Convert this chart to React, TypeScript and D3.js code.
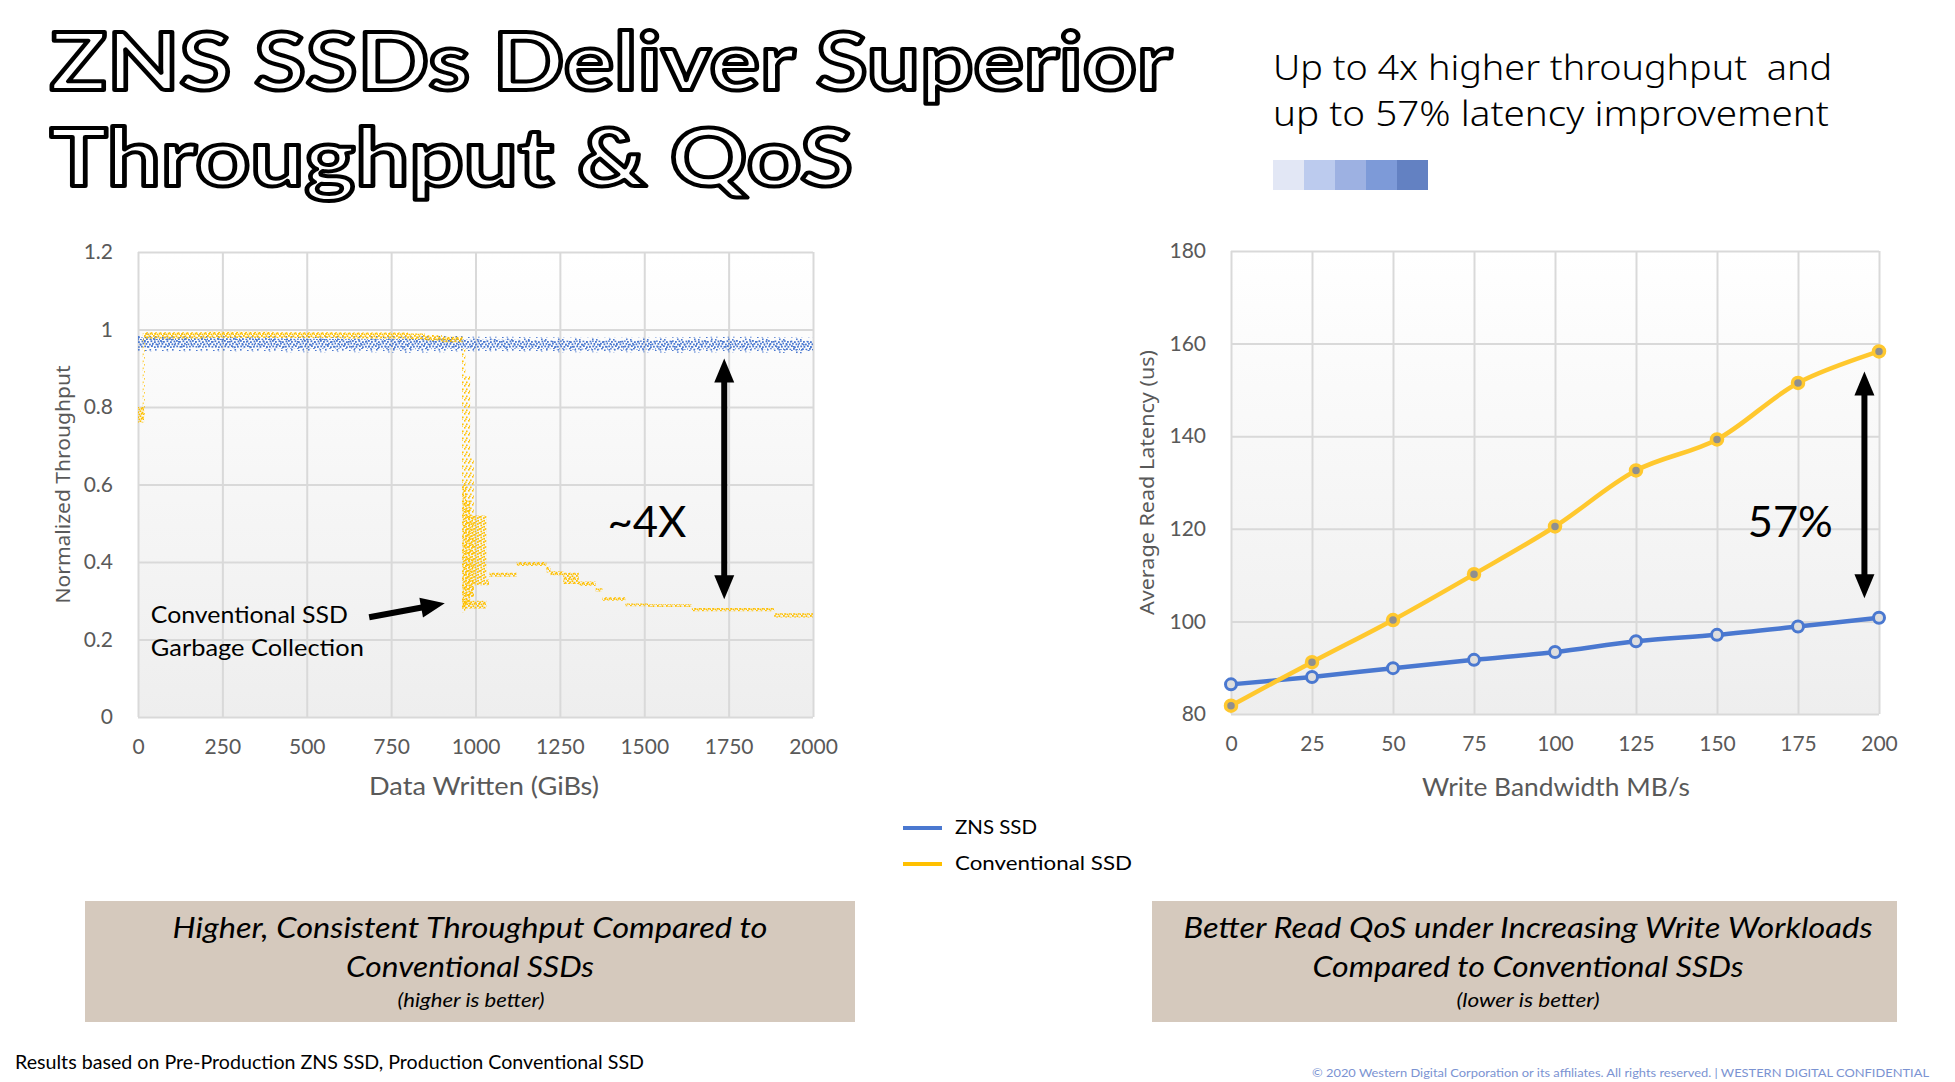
import React, { useRef, useEffect } from 'react';
import * as d3 from 'd3';

// ---- left chart: normalized throughput vs data written ----
const tpXTicks = [0, 250, 500, 750, 1000, 1250, 1500, 1750, 2000];
const tpYTicks = [0, 0.2, 0.4, 0.6, 0.8, 1, 1.2];

// ZNS SSD: centre of the noisy band and its half-width
const znsX = [0, 100, 200, 300, 400, 500, 600, 700, 800, 900, 1000, 1100, 1200, 1300, 1400, 1500, 1600, 1700, 1800, 1900, 2000];
const znsMid = [0.967, 0.966, 0.966, 0.965, 0.964, 0.963, 0.963, 0.962, 0.962, 0.963, 0.962, 0.962, 0.961, 0.96, 0.96, 0.96, 0.96, 0.961, 0.961, 0.96, 0.958];
const znsSpread = [0.023, 0.023, 0.022, 0.022, 0.022, 0.022, 0.021, 0.021, 0.022, 0.022, 0.019, 0.019, 0.019, 0.019, 0.019, 0.019, 0.02, 0.02, 0.02, 0.02, 0.021];

// Conventional SSD: steady-state band (step segments)
const convX = [0, 18, 200, 400, 600, 800, 850, 900, 962, 1032, 1040, 1122, 1210, 1222, 1260, 1306, 1356, 1376, 1444, 1512, 1641, 1885, 2000];
const convLo = [0.76, 0.977, 0.978, 0.978, 0.977, 0.975, 0.971, 0.967, 0.28, 0.34, 0.362, 0.39, 0.373, 0.366, 0.343, 0.338, 0.324, 0.3, 0.286, 0.284, 0.273, 0.257, 0.252];
const convHi = [0.8, 0.993, 0.994, 0.993, 0.992, 0.99, 0.986, 0.981, 0.3, 0.355, 0.372, 0.4, 0.388, 0.376, 0.372, 0.35, 0.332, 0.309, 0.293, 0.291, 0.281, 0.268, 0.26];

// Conventional SSD: garbage-collection burst
const gcX0 = [962, 972, 984, 995];
const gcX1 = [972, 984, 995, 1032];
const gcLo = [0.28, 0.29, 0.31, 0.34];
const gcHi = [0.6, 0.56, 0.52, 0.52];

// Conventional SSD: sparse spray (transitions)
const sprayX0 = [14, 960, 970, 984];
const sprayX1 = [20, 970, 984, 995];
const sprayLo = [0.77, 0.27, 0.3, 0.31];
const sprayHi = [0.99, 0.95, 0.88, 0.67];

// ---- right chart: read latency vs write bandwidth ----
const bwX = [0, 25, 50, 75, 100, 125, 150, 175, 200];
const znsLatency = [86.4, 88.0, 89.9, 91.7, 93.4, 95.7, 97.1, 98.9, 100.8];
const convLatency = [81.8, 91.2, 100.3, 110.2, 120.5, 132.6, 139.3, 151.5, 158.3];
const latYTicks = [80, 100, 120, 140, 160, 180];

const BLUE = '#4a78d0';
const GOLD = '#ffc000';
const GOLD_LINE = '#ffc82e';
const GRID = '#d9d9d9';
const TICK = '#595959';
const FONT = "Lato, 'Open Sans', sans-serif";

const App: React.FC = () => {
  const svgRef = useRef<SVGSVGElement>(null);

  useEffect(() => {
    const svg = d3.select(svgRef.current);
    svg.selectAll('*').remove();

    const defs = svg.append('defs');
    const grad = defs.append('linearGradient').attr('id', 'plotBg').attr('x1', 0).attr('y1', 0).attr('x2', 0).attr('y2', 1);
    grad.append('stop').attr('offset', '0%').attr('stop-color', '#ffffff');
    grad.append('stop').attr('offset', '100%').attr('stop-color', '#eeeeee');

    const dotPattern = (id: string, color: string, w: number, h: number, dots: number[][], s: number) => {
      const p = defs.append('pattern').attr('id', id).attr('patternUnits', 'userSpaceOnUse').attr('width', w).attr('height', h);
      dots.forEach(([dx, dy]) => p.append('rect').attr('x', dx).attr('y', dy).attr('width', s).attr('height', s).attr('fill', color));
    };
    dotPattern('blueDense', BLUE, 16, 10, [
      [0, 0], [3, 1], [6.5, 0.3], [10, 1.2], [13.5, 0.5],
      [1.5, 3], [5, 3.6], [8, 2.8], [11.5, 3.4], [14.5, 2.6],
      [0.3, 5.5], [3.5, 6], [7, 5.2], [10, 6.3], [13, 5.8],
      [2, 8.2], [5.5, 8.7], [9, 8], [12, 9], [15, 8.4]], 1.8);
    dotPattern('blueSparse', BLUE, 17, 13, [[1, 1], [8, 3], [14, 0.5], [4, 6], [11, 8], [16, 6], [2, 11], [9, 12], [13.5, 11]], 1.6);
    dotPattern('goldDense', GOLD, 9, 5, [[0, 0], [2.2, 1.4], [4.5, 0.3], [6.6, 1.8], [1.2, 3], [3.5, 3.6], [5.8, 2.9], [8, 3.5]], 1.8);
    dotPattern('goldMedium', GOLD, 6, 6, [[0, 0], [0.4, 2.6], [3, 1.2], [3.3, 3.9], [1.4, 4.8], [4.6, 0.2]], 1.7);
    dotPattern('goldSparse', GOLD, 4, 7, [[0, 0], [2, 3.5], [1, 5.5]], 1.6);

    const text = (x: number, y: number, str: string, size: number, opts: any = {}) => {
      const t = svg.append('text')
        .attr('x', x).attr('y', y)
        .attr('font-family', opts.family || FONT)
        .attr('font-size', size)
        .attr('fill', opts.fill || '#000')
        .attr('text-anchor', opts.anchor || 'start')
        .text(str);
      if (opts.len) t.attr('textLength', opts.len).attr('lengthAdjust', 'spacingAndGlyphs');
      if (opts.italic) t.attr('font-style', 'italic');
      if (opts.weight) t.attr('font-weight', opts.weight);
      return t;
    };

    // ---- title ----
    [['ZNS SSDs Deliver Superior', 90, 1122], ['Throughput & QoS', 186, 803]].forEach(([s, y, len]) => {
      svg.append('text')
        .attr('x', 50).attr('y', y as number)
        .attr('font-family', "Lato, sans-serif").attr('font-weight', 700).attr('font-size', 80)
        .attr('fill', '#fff').attr('stroke', '#000').attr('stroke-width', 4).attr('stroke-linejoin', 'round')
        .attr('textLength', len as number).attr('lengthAdjust', 'spacingAndGlyphs')
        .text(s as string);
    });

    text(1273, 80, 'Up to 4x higher throughput\u00a0 and', 34, { len: 559, family: "'Noto Sans', sans-serif", weight: 300 });
    text(1273, 126, 'up to 57% latency improvement', 34, { len: 556, family: "'Noto Sans', sans-serif", weight: 300 });
    ['#e2e7f5', '#bccbee', '#9db1e2', '#7d9ad8', '#6381c2'].forEach((c, i) => {
      svg.append('rect').attr('x', 1273 + i * 31).attr('y', 160).attr('width', 31).attr('height', 30).attr('fill', c);
    });

    const drawFrame = (x: any, y: any, xTicks: number[], yTicks: number[]) => {
      const [l, r] = x.range();
      const [b, t] = y.range();
      svg.append('rect').attr('x', l).attr('y', t).attr('width', r - l).attr('height', b - t).attr('fill', 'url(#plotBg)');
      const gx = svg.append('g').attr('transform', `translate(0,${b})`)
        .call(d3.axisBottom(x).tickValues(xTicks).tickSize(-(b - t)).tickPadding(22).tickFormat((d: any) => String(d)));
      const gy = svg.append('g').attr('transform', `translate(${l},0)`)
        .call(d3.axisLeft(y).tickValues(yTicks).tickSize(-(r - l)).tickPadding(25).tickFormat((d: any) => String(d)));
      [gx, gy].forEach(g => {
        g.select('.domain').remove();
        g.selectAll('line').attr('stroke', GRID).attr('stroke-width', 2);
        g.selectAll('text').attr('fill', TICK).attr('font-size', 21).attr('font-family', FONT);
      });
    };

    const arrow = (x1: number, y1: number, x2: number, y2: number, both: boolean) => {
      const ang = Math.atan2(y2 - y1, x2 - x1);
      const len = Math.hypot(x2 - x1, y2 - y1);
      const g = svg.append('g').attr('transform', `translate(${x1},${y1}) rotate(${(ang * 180) / Math.PI})`);
      const hl = 24, hw = 10;
      g.append('line').attr('x1', both ? hl - 2 : 0).attr('y1', 0).attr('x2', len - hl + 2).attr('y2', 0)
        .attr('stroke', '#000').attr('stroke-width', 6);
      g.append('path').attr('d', `M${len},0 L${len - hl},${-hw} L${len - hl},${hw} Z`).attr('fill', '#000');
      if (both) g.append('path').attr('d', `M0,0 L${hl},${-hw} L${hl},${hw} Z`).attr('fill', '#000');
    };

    // ---- left chart ----
    const x1 = d3.scaleLinear().domain([0, 2000]).range([138, 813]);
    const y1 = d3.scaleLinear().domain([0, 1.2]).range([717, 252]);
    drawFrame(x1, y1, tpXTicks, tpYTicks);

    const znsRows = znsX.map((v, i) => ({ x: v, m: znsMid[i], s: znsSpread[i] }));
    const band = (k: number) => d3.area<any>().x(d => x1(d.x)).y0(d => y1(d.m - d.s * k)).y1(d => y1(d.m + d.s * k)).curve(d3.curveMonotoneX);
    svg.append('path').attr('d', band(1)(znsRows)).attr('fill', 'url(#blueSparse)');
    svg.append('path').attr('d', band(0.6)(znsRows)).attr('fill', 'url(#blueDense)');

    const convRows = convX.map((v, i) => ({ x: v, lo: convLo[i], hi: convHi[i] }));
    svg.append('path')
      .attr('d', d3.area<any>().x(d => x1(d.x)).y0(d => y1(d.lo)).y1(d => y1(d.hi)).curve(d3.curveStepAfter)(convRows))
      .attr('fill', 'url(#goldDense)');
    const blocks = (x0s: number[], x1s: number[], los: number[], his: number[], fill: string) => {
      x0s.forEach((v, i) => {
        svg.append('rect')
          .attr('x', x1(v)).attr('width', x1(x1s[i]) - x1(v))
          .attr('y', y1(his[i])).attr('height', y1(los[i]) - y1(his[i]))
          .attr('fill', fill);
      });
    };
    blocks(sprayX0, sprayX1, sprayLo, sprayHi, 'url(#goldSparse)');
    blocks(gcX0, gcX1, gcLo, gcHi, 'url(#goldMedium)');

    svg.append('text').attr('transform', `translate(63,${(252 + 717) / 2}) rotate(-90)`)
      .attr('text-anchor', 'middle').attr('dy', '0.35em')
      .attr('font-family', "'Noto Sans', sans-serif").attr('font-size', 20).attr('fill', TICK)
      .attr('textLength', 238).attr('lengthAdjust', 'spacingAndGlyphs')
      .text('Normalized Throughput');
    text(484, 795, 'Data Written (GiBs)', 25, { anchor: 'middle', fill: TICK, len: 230 });

    text(x1(1391), y1(0.4636), '~4X', 42, { len: 79 });
    arrow(x1(1737), y1(0.925), x1(1737), y1(0.304), true);
    text(x1(38), y1(0.243), 'Conventional SSD', 23, { len: 197 });
    text(x1(38), y1(0.158), 'Garbage Collection', 23, { len: 213 });
    arrow(x1(685), y1(0.2575), x1(909), y1(0.2936), false);

    // ---- right chart ----
    const x2 = d3.scaleLinear().domain([0, 200]).range([1231, 1879]);
    const y2 = d3.scaleLinear().domain([80, 180]).range([714, 251]);
    drawFrame(x2, y2, bwX, latYTicks);

    const line = d3.line<number>().x((_, i) => x2(bwX[i])).y(d => y2(d)).curve(d3.curveCatmullRom.alpha(0.5));
    const series = [
      { vals: znsLatency, color: BLUE, r: 5.5, sw: 3, fill: '#dedede' },
      { vals: convLatency, color: GOLD_LINE, r: 5.5, sw: 3.5, fill: '#8f8f8f' },
    ];
    series.forEach(s => {
      svg.append('path').attr('d', line(s.vals)).attr('fill', 'none').attr('stroke', s.color).attr('stroke-width', 4.5);
      svg.append('g').selectAll('circle').data(s.vals).join('circle')
        .attr('cx', (_, i) => x2(bwX[i])).attr('cy', d => y2(d)).attr('r', s.r)
        .attr('fill', s.fill).attr('stroke', s.color).attr('stroke-width', s.sw);
    });

    svg.append('text').attr('transform', `translate(1147,${(251 + 714) / 2}) rotate(-90)`)
      .attr('text-anchor', 'middle').attr('dy', '0.35em')
      .attr('font-family', "'Noto Sans', sans-serif").attr('font-size', 20).attr('fill', TICK)
      .attr('textLength', 265).attr('lengthAdjust', 'spacingAndGlyphs')
      .text('Average Read Latency (us)');
    text(1556, 796, 'Write Bandwidth MB/s', 25, { anchor: 'middle', fill: TICK, len: 268 });

    text(x2(159.5), y2(118.3), '57%', 42, { len: 85 });
    arrow(x2(195.5), y2(154), x2(195.5), y2(105), true);

    // ---- legend ----
    [['ZNS SSD', BLUE, 828, 82], ['Conventional SSD', GOLD, 864, 177]].forEach(([name, c, y, len]) => {
      svg.append('line').attr('x1', 903).attr('x2', 942).attr('y1', y as number).attr('y2', y as number)
        .attr('stroke', c as string).attr('stroke-width', 4);
      text(955, (y as number) + 6, name as string, 20, { len: len as number });
    });

    // ---- captions ----
    svg.append('rect').attr('x', 85).attr('y', 901).attr('width', 770).attr('height', 121).attr('fill', '#d5c9bd');
    svg.append('rect').attr('x', 1152).attr('y', 901).attr('width', 745).attr('height', 121).attr('fill', '#d5c9bd');
    text(470, 938, 'Higher, Consistent Throughput Compared to', 29, { anchor: 'middle', italic: true, len: 595 });
    text(470, 977, 'Conventional SSDs', 29, { anchor: 'middle', italic: true, len: 248 });
    text(471, 1007, '(higher is better)', 19, { anchor: 'middle', italic: true, len: 147 });
    text(1528, 938, 'Better Read QoS under Increasing Write Workloads', 29, { anchor: 'middle', italic: true, len: 689 });
    text(1528, 977, 'Compared to Conventional SSDs', 29, { anchor: 'middle', italic: true, len: 431 });
    text(1528, 1007, '(lower is better)', 19, { anchor: 'middle', italic: true, len: 143 });

    text(15, 1069, 'Results based on Pre-Production ZNS SSD, Production Conventional SSD', 19, { len: 629 });
    text(1312, 1077, '\u00a9 2020 Western Digital Corporation or its affiliates. All rights reserved. | WESTERN DIGITAL CONFIDENTIAL', 12, { len: 617, fill: '#7b93d2' });
  }, []);

  return (
    <svg ref={svgRef} width={1955} height={1082} style={{ position: 'absolute', left: 0, top: 0, background: '#fff' }}></svg>
  );
};

export default App;
